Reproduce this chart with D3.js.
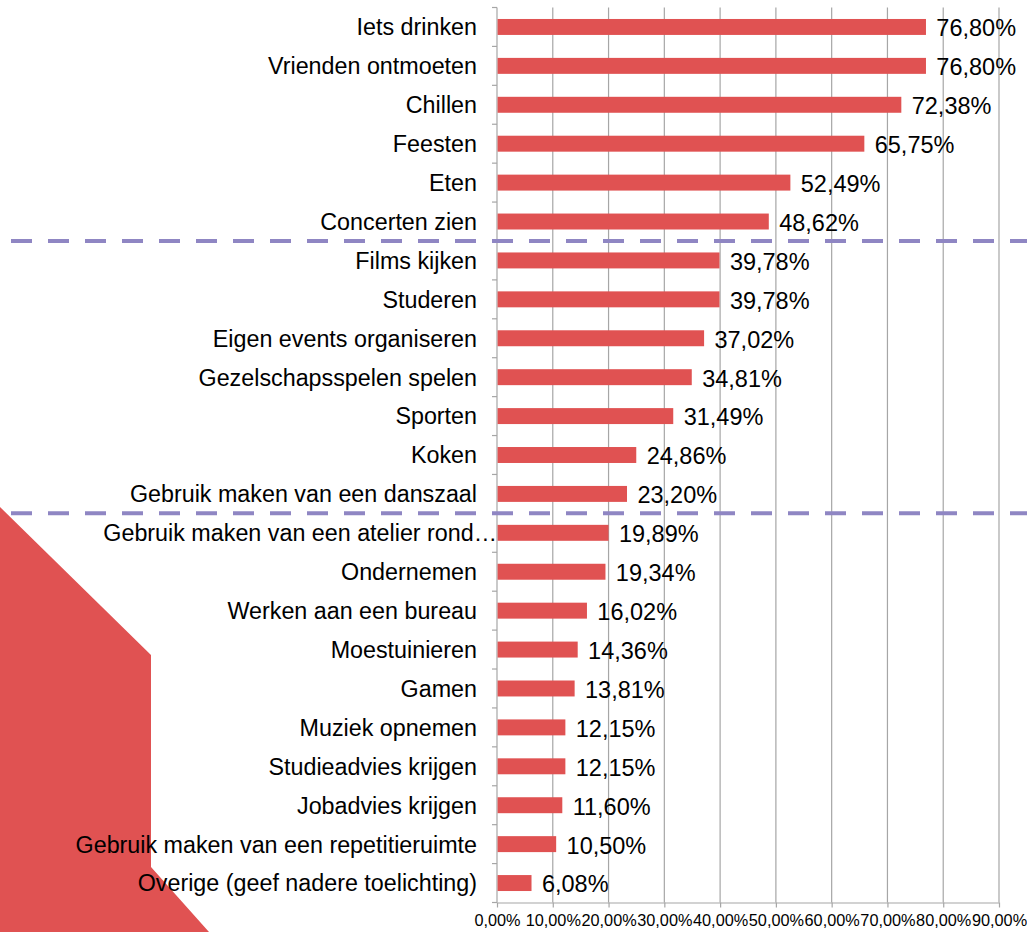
<!DOCTYPE html>
<html><head><meta charset="utf-8">
<script src="https://cdn.jsdelivr.net/npm/d3@7"></script>
<style>body{margin:0;background:#fff}svg{display:block}</style>
</head><body>
<svg id="c" width="1027" height="932"></svg>
<script>
const categories = ["Iets drinken","Vrienden ontmoeten","Chillen","Feesten","Eten","Concerten zien","Films kijken","Studeren","Eigen events organiseren","Gezelschapsspelen spelen","Sporten","Koken","Gebruik maken van een danszaal","Gebruik maken van een atelier rond…","Ondernemen","Werken aan een bureau","Moestuinieren","Gamen","Muziek opnemen","Studieadvies krijgen","Jobadvies krijgen","Gebruik maken van een repetitieruimte","Overige (geef nadere toelichting)"];
const values = [76.80,76.80,72.38,65.75,52.49,48.62,39.78,39.78,37.02,34.81,31.49,24.86,23.20,19.89,19.34,16.02,14.36,13.81,12.15,12.15,11.60,10.50,6.08];
const tickValues = [0,10,20,30,40,50,60,70,80,90];
const dividerAfter = ["Concerten zien","Gebruik maken van een danszaal"];

(function(){
const svg = d3.select("#c");
const pL = 497, pR = 999, pT = 7.5, pB = 902.5;
const fmt = v => v.toFixed(2).replace(".", ",") + "%";
const x = d3.scaleLinear().domain([0,90]).range([pL,pR]);
const y = d3.scaleBand().domain(categories).range([pT,pB]).paddingInner(0.59).paddingOuter(0.295);
const red = "#E05252";
const font = "Liberation Sans, Arial, sans-serif";

svg.append("path").attr("d","M0,507 L151,655 L151,867 L209,932 L0,932 Z").attr("fill",red);

svg.append("g").selectAll("line").data(tickValues.slice(1)).join("line")
  .attr("x1",d=>x(d)).attr("x2",d=>x(d)).attr("y1",pT).attr("y2",pB)
  .attr("stroke","#a6a6a6").attr("stroke-width",1.2);

const xa = svg.append("g").attr("transform",`translate(0,${pB})`)
  .call(d3.axisBottom(x).tickValues(tickValues).tickFormat(d=>d.toFixed(2).replace(".",",")+"%").tickSize(5).tickSizeOuter(0));
xa.select(".domain").attr("stroke","#a6a6a6").attr("stroke-width",1.2);
xa.selectAll(".tick line").attr("stroke","#a6a6a6").attr("stroke-width",1.2);
xa.selectAll("text").attr("font-family",font).attr("font-size",16.3).attr("fill","#000").attr("y",10).attr("dy","0.85em");

const step = y.step();
const ya = svg.append("g").attr("transform",`translate(${pL},0)`);
ya.append("line").attr("x1",0).attr("x2",0).attr("y1",pT).attr("y2",pB).attr("stroke","#a6a6a6").attr("stroke-width",1.2);
ya.selectAll("line.t").data(d3.range(categories.length+1)).join("line").attr("class","t")
  .attr("x1",-5).attr("x2",0).attr("y1",i=>pT+i*step).attr("y2",i=>pT+i*step)
  .attr("stroke","#a6a6a6").attr("stroke-width",1.2);

svg.append("g").selectAll("rect").data(categories).join("rect")
  .attr("x",x(0)+0.6).attr("y",d=>y(d)).attr("height",y.bandwidth())
  .attr("width",(d,i)=>x(values[i])-x(0)).attr("fill",red);

svg.append("g").selectAll("text").data(categories).join("text")
  .attr("x",d=>d.endsWith("…") ? 497 : 477).attr("y",d=>y(d)+y.bandwidth()/2).attr("dy","0.36em")
  .attr("text-anchor","end").attr("font-family",font).attr("font-size",23.3).attr("fill","#000")
  .text(d=>d);

svg.append("g").selectAll("text").data(categories).join("text")
  .attr("x",(d,i)=>x(values[i])+11).attr("y",d=>y(d)+y.bandwidth()/2).attr("dy","0.4em")
  .attr("font-family",font).attr("font-size",23.5).attr("fill","#000")
  .text((d,i)=>fmt(values[i]));

svg.append("g").selectAll("line").data(dividerAfter).join("line")
  .attr("x1",11).attr("x2",1027)
  .attr("y1",d=>y(d)+y.bandwidth()+(step-y.bandwidth())/2).attr("y2",d=>y(d)+y.bandwidth()+(step-y.bandwidth())/2)
  .attr("stroke","#8F86C3").attr("stroke-width",4).attr("stroke-dasharray","21,16");
})();
</script>
</body></html>
